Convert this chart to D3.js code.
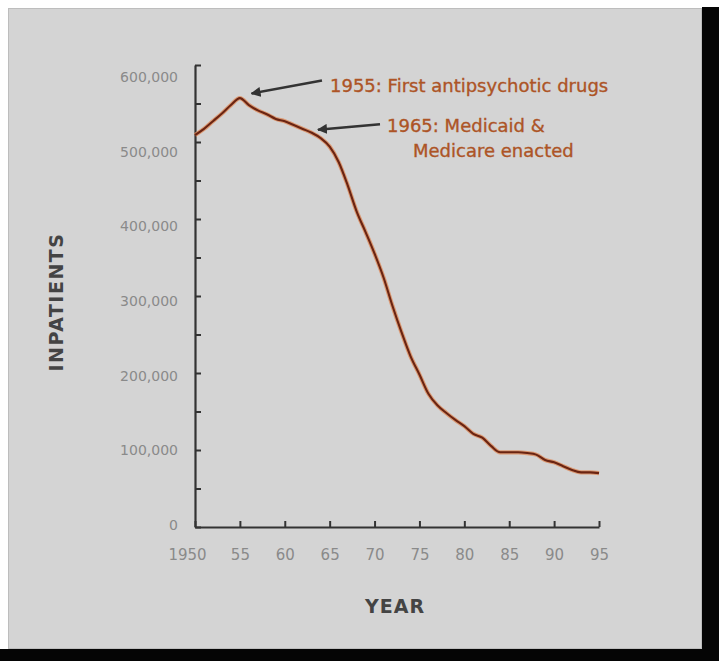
<!DOCTYPE html>
<html>
<head>
<meta charset="utf-8">
<script src="https://cdn.jsdelivr.net/npm/d3@7/dist/d3.min.js"></script>
<style>
  html, body { margin: 0; padding: 0; background: #ffffff; }
  svg { display: block; }
</style>
</head>
<body>
<svg id="chart" width="719" height="661"></svg>
<script>
// ---- data ----
const years = [1950,1951,1952,1953,1954,1955,1956,1957,1958,1959,1960,1961,1962,1963,1964,1965,1966,1967,1968,1969,1970,1971,1972,1973,1974,1975,1976,1977,1978,1979,1980,1981,1982,1983,1984,1985,1986,1987,1988,1989,1990,1991,1992,1993,1994,1995];
const inpatients = [509000,517000,527000,537000,548000,557000,548000,541000,536000,530000,527000,522000,517000,512000,505000,494000,474000,444000,410000,383000,355000,324000,287000,253000,222000,198000,173000,158000,148000,139000,131000,121000,116000,105000,97000,97000,97000,96000,94000,87000,84000,79000,74000,71000,71000,70000];
const xTicks = [1950,1955,1960,1965,1970,1975,1980,1985,1990,1995];
const yTickMarks = [0,50000,100000,150000,200000,250000,300000,350000,400000,450000,500000,550000,600000];
const yTickLabels = [0,100000,200000,300000,400000,500000,600000];
const annotationText = [["1955: First antipsychotic drugs"], ["1965: Medicaid &", "Medicare enacted"]];
const annotationTip = [[1956.3, 563000], [1963.7, 516000]];
const xTitle = "YEAR";
const yTitle = "INPATIENTS";

// ---- layout ----
const svg = d3.select("#chart");
const W = 719, H = 661;

// frame: white margin, gray panel, black shadow right/bottom
svg.append("rect").attr("x", 0).attr("y", 0).attr("width", W).attr("height", H).attr("fill", "#ffffff");
svg.append("rect").attr("x", 702).attr("y", 7).attr("width", W - 702).attr("height", H - 7).attr("fill", "#050505");
svg.append("rect").attr("x", 0).attr("y", 649).attr("width", W).attr("height", H - 649).attr("fill", "#050505");
svg.append("rect").attr("x", 8.5).attr("y", 8.5).attr("width", 693).attr("height", 640)
  .attr("fill", "#d4d4d4").attr("stroke", "#bdbdbd").attr("stroke-width", 1);

const x = d3.scaleLinear().domain([1950, 1995]).range([195, 599]);
const y = d3.scaleLinear().domain([0, 600000]).range([527, 65]);
// tick labels in the original sit on a slightly different spacing than the tick marks
const yLab = d3.scaleLinear().domain([0, 600000]).range([525, 77]);

const axisColor = "#333333";

// y axis marks
const gy = svg.append("g").attr("transform", `translate(${x(1950)},0)`)
  .call(d3.axisRight(y).tickValues(yTickMarks).tickSize(6).tickSizeOuter(0).tickFormat(""));
gy.select(".domain").attr("stroke", axisColor).attr("stroke-width", 2.2);
gy.selectAll(".tick line").attr("stroke", axisColor).attr("stroke-width", 2);

// y labels
const gyl = svg.append("g").attr("transform", `translate(${x(1950)},0)`)
  .call(d3.axisLeft(yLab).tickValues(yTickLabels).tickSize(0).tickPadding(17).tickFormat(d3.format(",")));
gyl.select(".domain").remove();
gyl.selectAll("text").attr("fill", "#8a8a8a").attr("font-family", "DejaVu Sans").attr("font-size", 14);

// x axis marks
const gx = svg.append("g").attr("transform", `translate(0,${y(0)})`)
  .call(d3.axisTop(x).tickValues(xTicks).tickSize(6).tickSizeOuter(0).tickFormat(""));
gx.select(".domain").attr("stroke", axisColor).attr("stroke-width", 2.2);
gx.selectAll(".tick line").attr("stroke", axisColor).attr("stroke-width", 2);

// x labels
const gxl = svg.append("g").attr("transform", `translate(0,${y(0)})`)
  .call(d3.axisBottom(x).tickValues(xTicks).tickSize(0).tickPadding(22)
    .tickFormat(d => d === 1950 ? String(d) : String(d).slice(2)));
gxl.select(".domain").remove();
gxl.selectAll("text").attr("fill", "#8a8a8a").attr("font-family", "DejaVu Sans").attr("font-size", 15)
  .attr("dx", d => d === 1950 ? -8 : 0);

// axis titles
svg.append("text").attr("x", 395).attr("y", 613).attr("text-anchor", "middle")
  .attr("font-family", "DejaVu Sans").attr("font-weight", "bold").attr("font-size", 19)
  .attr("letter-spacing", 1).attr("fill", "#444444").text(xTitle);
svg.append("text").attr("transform", "translate(63,302) rotate(-90)").attr("text-anchor", "middle")
  .attr("font-family", "DejaVu Sans").attr("font-weight", "bold").attr("font-size", 19)
  .attr("letter-spacing", 1.5).attr("fill", "#444444").text(yTitle);

// line
const pts = years.map((yr, i) => [yr, inpatients[i]]);
const line = d3.line().x(d => x(d[0])).y(d => y(d[1])).curve(d3.curveMonotoneX);
svg.append("path").attr("d", line(pts)).attr("fill", "none")
  .attr("stroke", "#dc8a5a").attr("stroke-width", 4.2).attr("stroke-linejoin", "round").attr("opacity", 0.8);
svg.append("path").attr("d", line(pts)).attr("fill", "none")
  .attr("stroke", "#6a2412").attr("stroke-width", 2.1).attr("stroke-linejoin", "round");

// annotations
const defs = svg.append("defs");
defs.append("marker").attr("id", "arrow").attr("viewBox", "0 0 10 10")
  .attr("refX", 9).attr("refY", 5).attr("markerWidth", 4).attr("markerHeight", 4)
  .attr("markerUnits", "strokeWidth").attr("orient", "auto")
  .append("path").attr("d", "M0,0 L10,5 L0,10 Z").attr("fill", "#333333");

const tails = [[322, 80.5], [380, 124.3]];
const textPos = [[330, 91.5], [387, 132]];
const lineIndent = [0, 26];
annotationText.forEach((lines, i) => {
  const tip = annotationTip[i];
  svg.append("line")
    .attr("x1", tails[i][0]).attr("y1", tails[i][1])
    .attr("x2", x(tip[0])).attr("y2", y(tip[1]))
    .attr("stroke", "#333333").attr("stroke-width", 2.5).attr("marker-end", "url(#arrow)");
  const t = svg.append("text").attr("x", textPos[i][0]).attr("y", textPos[i][1])
    .attr("font-family", "DejaVu Sans").attr("font-size", 18).attr("fill", "#ad5426")
    .attr("stroke", "#ad5426").attr("stroke-width", 0.35);
  lines.forEach((s, j) => {
    t.append("tspan").attr("x", textPos[i][0] + (j ? lineIndent[1] : 0))
      .attr("dy", j ? 25 : 0).text(s);
  });
});
</script>
</body>
</html>
